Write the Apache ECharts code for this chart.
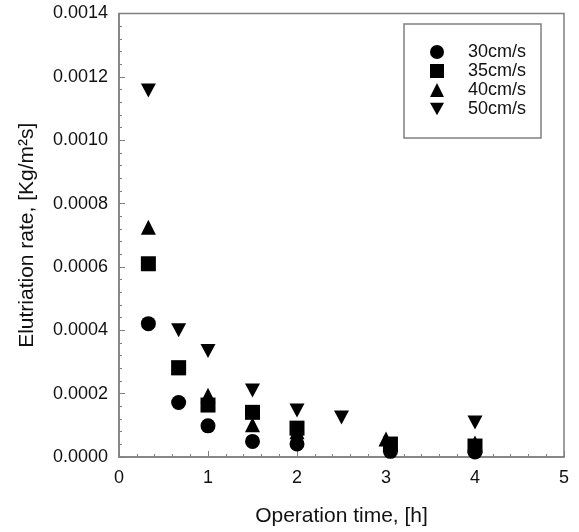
<!DOCTYPE html>
<html>
<head>
<meta charset="utf-8">
<script src="https://cdn.jsdelivr.net/npm/echarts@6/dist/echarts.min.js"></script>
<style>html,body{margin:0;padding:0;background:#fff;}#c{width:579px;height:532px;}</style>
</head>
<body>
<div id="c"></div>
<script>
const seriesNames = ['30cm/s', '35cm/s', '40cm/s', '50cm/s'];
const symbols = ['circle', 'rect', 'triangle', 'path://M0,0 L10,0 L5,9 Z'];
const x30 = [0.33, 0.67, 1, 1.5, 2, 3.05, 4];
const y30 = [0.000421, 0.000172, 0.0000984, 0.0000493, 0.0000409, 0.0000179, 0.0000157];
const x35 = [0.33, 0.67, 1, 1.5, 2, 3.05, 4];
const y35 = [0.00061, 0.000282, 0.000164, 0.000141, 0.0000911, 0.0000409, 0.0000346];
const x40 = [0.33, 0.67, 1, 1.5, 2, 3.0, 4];
const y40 = [0.000725, 0.000282, 0.000195, 0.000102, 0.00008, 0.0000566, 0.000044];
const x50 = [0.33, 0.67, 1, 1.5, 2, 2.5, 4];
const y50 = [0.001157, 0.0004, 0.000335, 0.00021, 0.000147, 0.000125, 0.000109];
const xs = [x30, x35, x40, x50];
const ys = [y30, y35, y40, y50];
const xTitle = 'Operation time, [h]';
const yTitle = 'Elutriation rate, [Kg/m\u00B2s]';

const chart = echarts.init(document.getElementById('c'), null, {renderer: 'canvas'});
const font = 'Liberation Sans, Arial, sans-serif';
const zs = [3, 3, 2, 3];
const series = seriesNames.map((n, i) => ({
  name: n,
  type: 'scatter',
  symbol: symbols[i],
  symbolSize: i === 3 ? [15, 14] : 15,
  z: zs[i],
  itemStyle: {color: '#000', opacity: 1},
  emphasis: {disabled: true},
  data: xs[i].map((x, j) => [x, ys[i][j]])
}));
chart.setOption({
  animation: false,
  grid: {left: 119, right: 15, top: 13.5, bottom: 73, show: true, borderColor: '#808080', borderWidth: 1.5},
  legend: {
    orient: 'vertical', left: 404, top: 24,
    itemWidth: 14, itemHeight: 14, itemGap: 1,
    padding: [19, 15, 20, 26],
    borderColor: '#808080', borderWidth: 1.5,
    textStyle: {fontFamily: font, fontSize: 18, lineHeight: 18, color: '#111', padding: [0, 0, 0, 19]},
    data: seriesNames.map((n, i) => ({name: n, icon: symbols[i], itemStyle: {color: '#000', opacity: 1}})),
  },
  xAxis: {
    type: 'value', min: 0, max: 5, interval: 1,
    name: xTitle, nameLocation: 'middle', nameGap: 49,
    nameTextStyle: {fontFamily: font, fontSize: 21, color: '#111'},
    axisLine: {lineStyle: {color: '#808080', width: 1.5}},
    axisTick: {inside: true, length: 6, lineStyle: {color: '#808080'}},
    minorTick: {show: true, splitNumber: 5, length: 3, lineStyle: {color: '#808080'}},
    splitLine: {show: false},
    axisLabel: {fontFamily: font, fontSize: 18, color: '#111', margin: 12}
  },
  yAxis: {
    type: 'value', min: 0, max: 0.0014, interval: 0.0002,
    name: yTitle, nameLocation: 'middle', nameGap: 81,
    nameTextStyle: {fontFamily: font, fontSize: 21, color: '#111'},
    axisLine: {lineStyle: {color: '#808080', width: 1.5}},
    axisTick: {inside: true, length: 6, lineStyle: {color: '#808080'}},
    minorTick: {show: true, splitNumber: 5, length: 3, lineStyle: {color: '#808080'}},
    splitLine: {show: false},
    axisLabel: {fontFamily: font, fontSize: 18, color: '#111', margin: 11, formatter: v => v.toFixed(4)}
  },
  series: series
});
</script>
</body>
</html>
